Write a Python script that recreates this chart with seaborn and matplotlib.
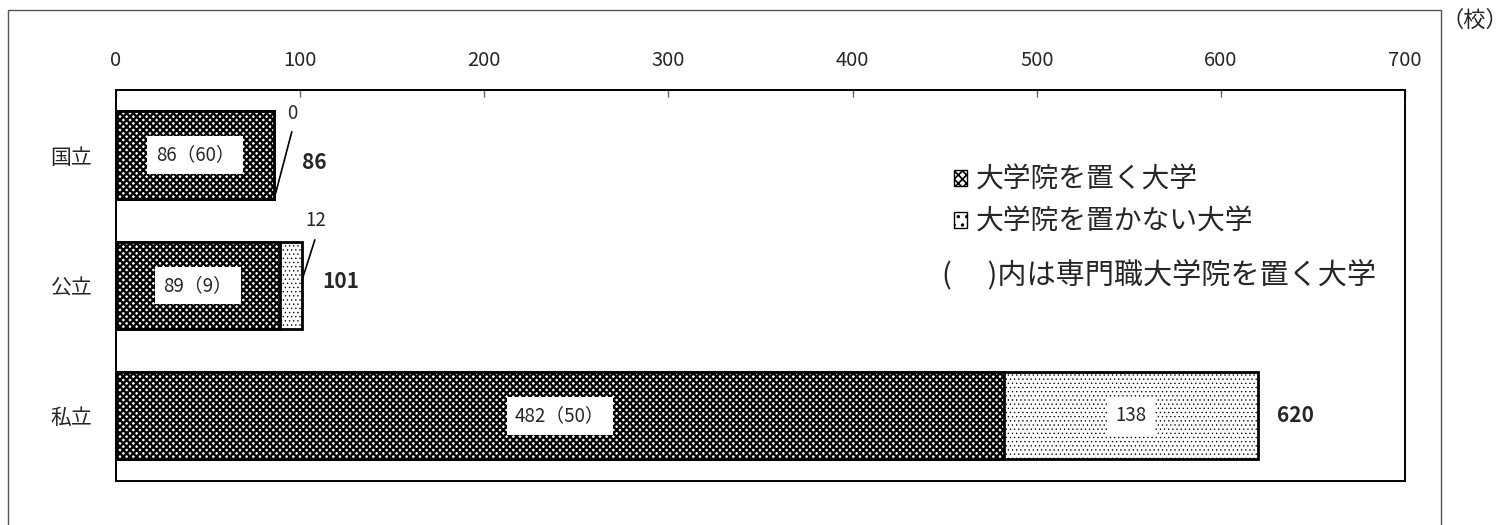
import numpy as np
import pandas as pd
import matplotlib
matplotlib.use("Agg")
import matplotlib.pyplot as plt
import seaborn as sns
from matplotlib.patches import Patch, Rectangle

categories = ["国立", "公立", "私立"]
with_grad = [86, 89, 482]
without_grad = [0, 12, 138]
prof_grad = [60, 9, 50]
totals = [86, 101, 620]

legend_labels = ["大学院を置く大学", "大学院を置かない大学"]
note_text = "(　 )内は専門職大学院を置く大学"
unit_text = "（校）"

CHECK = "xxxxx"
DOTS = "...."

sns.set_style("white")
plt.rcParams["font.family"] = ["Noto Sans CJK JP", "DejaVu Sans"]
plt.rcParams["hatch.linewidth"] = 1.5


def hatch_lw(patch, lw):
    if hasattr(patch, "set_hatch_linewidth"):
        patch.set_hatch_linewidth(lw)


df = pd.DataFrame({"cat": categories, "with": with_grad,
                   "without": without_grad, "total": totals})

fig = plt.figure(figsize=(15.08, 5.25), dpi=100)
ax = fig.add_axes([0.0769, 0.0838, 0.8548, 0.7448])

# outer frame
fig.patches.append(Rectangle((8 / 1508, -0.02), (1441 - 8) / 1508, 1.02 - 10 / 525,
                             transform=fig.transFigure, fill=False,
                             edgecolor="#555555", linewidth=1.0))

bw = 0.67
sns.barplot(data=df, x="total", y="cat", orient="h", ax=ax, width=bw,
            color="white", edgecolor="black", linewidth=2, hatch=DOTS)
n_back = len(ax.patches)
sns.barplot(data=df, x="with", y="cat", orient="h", ax=ax, width=bw,
            color="white", edgecolor="black", linewidth=2, hatch=CHECK)
for k, p in enumerate(ax.patches):
    p.set_facecolor("white")
    hatch_lw(p, 0.45 if k < n_back else 1.7)

ax.set_xlim(0, 700)
ax.set_ylim(2.5, -0.5)
ax.xaxis.tick_top()
ax.set_xticks(np.arange(0, 701, 100))
ax.set_xlabel("")
ax.set_ylabel("")
ax.tick_params(axis="x", labelsize=14.5, length=5, width=1, color="#666666",
               direction="in", pad=14)
ax.tick_params(axis="y", labelsize=15, length=0, pad=17)
ax.set_yticks([0.5, 1.5], minor=True)
ax.tick_params(axis="y", which="minor", length=6, direction="in", width=1,
               color="#333333")
for s in ax.spines.values():
    s.set_linewidth(1.4)
    s.set_edgecolor("black")

box = dict(boxstyle="square,pad=0.45", facecolor="white", edgecolor="none")
# leader lines for the small segments: (x offset top, y top, y bottom, label x offset, label y)
leaders = {0: (9.5, -0.18, 0.33, 10, -0.32), 1: (7, -0.35, -0.04, 7.5, -0.5)}
total_dx = [15, 11, 10.5]
total_dy = [0.06, -0.03, 0.0]
for i in range(len(categories)):
    inner = f"{with_grad[i]}（{prof_grad[i]}）"
    ax.text(with_grad[i] / 2, i, inner, ha="center", va="center",
            fontsize=13.5, bbox=box)
    if i in leaders:
        dx, yt, yb, lx, ly = leaders[i]
        ax.plot([totals[i] + dx, totals[i]], [i + yt, i + yb], color="black", lw=1.2)
        ax.text(totals[i] + lx, i + ly, str(without_grad[i]), ha="center",
                va="center", fontsize=13.5)
    else:
        ax.text(with_grad[i] + without_grad[i] / 2, i, str(without_grad[i]),
                ha="center", va="center", fontsize=13.5, bbox=box)
    ax.text(totals[i] + total_dx[i], i + total_dy[i], str(totals[i]), ha="left",
            va="center", fontsize=15, fontweight="bold")

handles = [Patch(facecolor="white", edgecolor="black", hatch="xxxx"),
           Patch(facecolor="white", edgecolor="black", hatch="..")]
leg = ax.legend(handles, legend_labels, loc="upper left", bbox_to_anchor=(0.639, 0.845),
                frameon=False, fontsize=20, handlelength=0.5, handleheight=0.5,
                handletextpad=0.3, labelspacing=0.45, borderpad=0)
for h in leg.get_patches():
    hatch_lw(h, 1.2)
ax.text(0.641, 0.525, note_text, transform=ax.transAxes, fontsize=21,
        ha="left", va="center")

fig.text(1475 / 1508, 1 - 20 / 525, unit_text, ha="center", va="center", fontsize=16)

fig.savefig("out.png", dpi=100)
